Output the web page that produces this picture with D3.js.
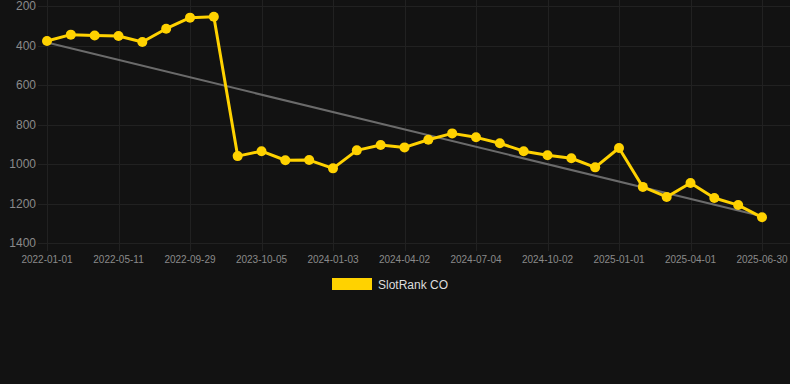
<!DOCTYPE html>
<html><head><meta charset="utf-8">
<script src="https://cdn.jsdelivr.net/npm/d3@7"></script>
<style>html,body{margin:0;padding:0;background:#121212;}svg{display:block;}</style>
</head><body>
<svg id="c" width="790" height="384"></svg>
<script>
const dates = ["2022-01-01","2022-02-16","2022-03-29","2022-05-11","2022-06-26","2022-08-12","2022-09-29","2022-12-15","2023-06-10","2023-10-05","2023-11-04","2023-12-04","2024-01-03","2024-02-02","2024-03-03","2024-04-02","2024-05-03","2024-06-03","2024-07-04","2024-08-03","2024-09-02","2024-10-02","2024-11-01","2024-12-01","2025-01-01","2025-01-31","2025-03-02","2025-04-01","2025-05-01","2025-05-31","2025-06-30"];
const rankValues = [377,345,349,352,382,315,259,254,960,935,981,980,1022,931,904,916,877,845,865,895,935,956,971,1017,919,1116,1167,1096,1172,1208,1270];
const trendValues = [385,1265];
const yTicks = [200,400,600,800,1000,1200,1400];
const seriesName = "SlotRank CO";

const svg = d3.select("#c");
const W = 790;
const x = d3.scalePoint().domain(dates).range([47, 762]);
const y = d3.scaleLinear().domain([200,1400]).range([6, 243]);
const grid = "#212121";

// horizontal grid
svg.append("g").selectAll("line").data(yTicks).join("line")
  .attr("x1", 38).attr("x2", W)
  .attr("y1", d => Math.round(y(d))+0.5).attr("y2", d => Math.round(y(d))+0.5)
  .attr("stroke", grid).attr("stroke-width", 1);

// x ticks (every third shown)
const shown = dates.filter((d,i) => i % 3 === 0);
svg.append("g").selectAll("line").data(shown).join("line")
  .attr("x1", d => Math.round(x(d))+0.5).attr("x2", d => Math.round(x(d))+0.5)
  .attr("y1", 0).attr("y2", 251)
  .attr("stroke", grid).attr("stroke-width", 1);

// y labels
svg.append("g").selectAll("text").data(yTicks).join("text")
  .attr("x", 36).attr("y", d => y(d)).attr("dy", "0.35em")
  .attr("text-anchor", "end")
  .attr("font-family", "Liberation Sans, Arial, sans-serif").attr("font-size", 12)
  .attr("fill", "#8a8a8a").text(d => d);

// x labels
svg.append("g").selectAll("text").data(shown).join("text")
  .attr("x", d => x(d)).attr("y", 263)
  .attr("text-anchor", "middle")
  .attr("font-family", "Liberation Sans, Arial, sans-serif").attr("font-size", 10)
  .attr("fill", "#8a8a8a").text(d => d);

// trend line
svg.append("line")
  .attr("x1", x(dates[0])).attr("y1", y(trendValues[0]))
  .attr("x2", x(dates[dates.length-1])).attr("y2", y(trendValues[1]))
  .attr("stroke", "#6b6b6b").attr("stroke-width", 2);

// series line
const line = d3.line().x((d,i) => x(dates[i])).y(d => y(d));
svg.append("path").datum(rankValues).attr("d", line)
  .attr("fill", "none").attr("stroke", "#FFD200").attr("stroke-width", 3)
  .attr("stroke-linejoin", "round");
svg.append("g").selectAll("circle").data(rankValues).join("circle")
  .attr("cx", (d,i) => x(dates[i])).attr("cy", d => y(d)).attr("r", 5)
  .attr("fill", "#FFD200");

// legend
svg.append("rect").attr("x", 332).attr("y", 278).attr("width", 40).attr("height", 12).attr("fill", "#FFD200");
svg.append("text").attr("x", 378).attr("y", 284.5).attr("dy", "0.35em")
  .attr("font-family", "Liberation Sans, Arial, sans-serif").attr("font-size", 12)
  .attr("fill", "#dddddd").text(seriesName);
</script>
</body></html>
